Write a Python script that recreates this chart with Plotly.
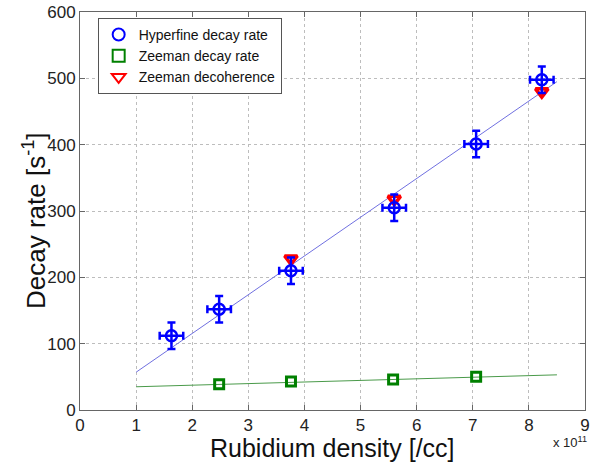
import plotly.graph_objects as go

# Data (x in units of 1e11 /cc)
hf_x = [1.63, 2.48, 3.76, 5.60, 7.06, 8.23]
hf_y = [112, 152, 210, 305, 401, 498]
hf_xerr = [0.21, 0.21, 0.21, 0.21, 0.21, 0.21]
hf_yerr = [20, 20, 20, 20, 20, 20]

zd_x = [2.48, 3.76, 5.58, 7.06]
zd_y = [39, 43, 46, 50]

zc_x = [3.76, 5.60, 8.23]
zc_y = [228, 318, 480]

fit_x = [1.0, 8.5]
hf_fit = [57, 495]
zd_fit = [35, 53]

x_ticks = [0, 1, 2, 3, 4, 5, 6, 7, 8, 9]
y_ticks = [0, 100, 200, 300, 400, 500, 600]

font = "Arial, Liberation Sans, sans-serif"

fig = go.Figure()

fig.add_trace(go.Scatter(x=fit_x, y=hf_fit, mode="lines",
                         line=dict(color="#7070e0", width=1),
                         showlegend=False, hoverinfo="skip"))
fig.add_trace(go.Scatter(x=fit_x, y=zd_fit, mode="lines",
                         line=dict(color="#4a9a4a", width=1),
                         showlegend=False, hoverinfo="skip"))

fig.add_trace(go.Scatter(x=zc_x, y=zc_y, mode="markers",
                         name="Zeeman decoherence", legendrank=3,
                         marker=dict(symbol="triangle-down-open", size=11,
                                     color="#ff0000", line=dict(width=3.5, color="#ff0000"))))

fig.add_trace(go.Scatter(x=hf_x, y=hf_y, mode="markers",
                         name="Hyperfine decay rate", legendrank=1,
                         marker=dict(symbol="circle-open", size=11,
                                     color="#0000ff", line=dict(width=2.5, color="#0000ff")),
                         error_x=dict(type="data", array=hf_xerr, color="#0000ff",
                                      thickness=2.5, width=4),
                         error_y=dict(type="data", array=hf_yerr, color="#0000ff",
                                      thickness=2.5, width=4)))

fig.add_trace(go.Scatter(x=zd_x, y=zd_y, mode="markers",
                         name="Zeeman decay rate", legendrank=2,
                         marker=dict(symbol="square-open", size=9,
                                     color="#008000", line=dict(width=3, color="#008000"))))

axis_common = dict(showline=True, linecolor="#666666", linewidth=1, mirror="ticks",
                   ticks="inside", ticklen=5, tickcolor="#666666",
                   showgrid=True, gridcolor="#bdbdbd", griddash="dot", gridwidth=1,
                   zeroline=False, automargin=False,
                   tickfont=dict(family=font, size=17, color="#222222"))

fig.update_xaxes(range=[0, 9], tickvals=x_ticks, ticktext=[str(v) for v in x_ticks],
                 **axis_common)
fig.update_yaxes(range=[0, 600], tickvals=y_ticks, ticktext=[str(v) for v in y_ticks],
                 **axis_common)

# Axis titles
fig.add_annotation(x=0.5, y=0, xref="paper", yref="paper", xanchor="center", yanchor="middle",
                   yshift=-38, text="Rubidium density [/cc]", showarrow=False,
                   font=dict(family=font, size=25, color="#111111"))
fig.add_annotation(x=0, y=0.5, xref="paper", yref="paper", xanchor="center", yanchor="middle",
                   xshift=-46, yshift=-10, textangle=-90, text="Decay rate [s<sup>-1</sup>]", showarrow=False,
                   font=dict(family=font, size=26, color="#111111"))

fig.add_annotation(x=1.0, y=0, xref="paper", yref="paper", xanchor="right", yanchor="top",
                   xshift=4, yshift=-22,
                   text="x 10<sup>11</sup>", showarrow=False,
                   font=dict(family=font, size=13, color="#222222"))

fig.update_layout(
    width=595, height=463,
    margin=dict(l=80, r=10, t=12, b=53),
    paper_bgcolor="white", plot_bgcolor="white",
    font=dict(family=font),
    legend=dict(x=0.035, y=0.985, xanchor="left", yanchor="top",
                bgcolor="white", bordercolor="#555555", borderwidth=1,
                font=dict(family=font, size=14, color="#111111"),
                traceorder="normal", itemsizing="constant",
                tracegroupgap=0, itemwidth=30),
)

fig.write_html("out.html", config={"displayModeBar": False},
               post_script="document.body.style.margin='0';document.body.style.overflow='hidden';")
